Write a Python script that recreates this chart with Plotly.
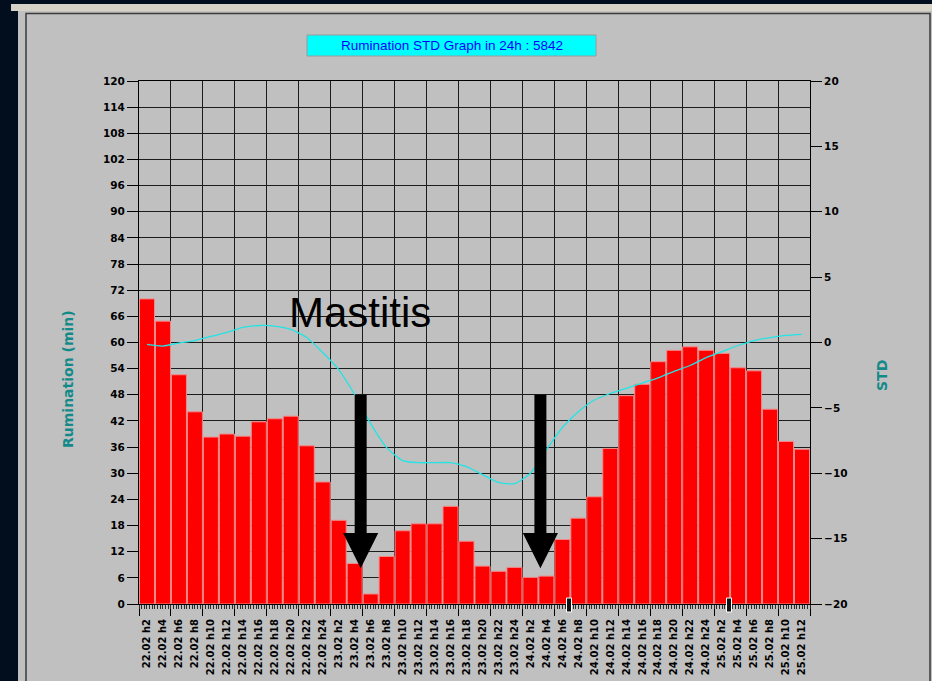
import plotly.graph_objects as go

# ---------------- data ----------------
days = ["22.02"] * 12 + ["23.02"] * 12 + ["24.02"] * 12 + ["25.02"] * 6
hours = [f"h{h}" for h in range(2, 25, 2)] * 3 + [f"h{h}" for h in range(2, 13, 2)]
categories = [f"{d} {h}" for d, h in zip(days, hours)]

rumination = [70.0, 64.9, 52.6, 44.1, 38.3, 39.0, 38.5, 41.8, 42.5, 43.1, 36.3, 28.0,
              19.2, 9.3, 2.3, 10.9, 16.8, 18.4, 18.4, 22.4, 14.4, 8.7, 7.5, 8.4,
              6.1, 6.4, 14.8, 19.7, 24.6, 35.7, 47.8, 50.4, 55.6, 58.2, 59.0, 58.2,
              57.5, 54.2, 53.5, 44.7, 37.3, 35.5]

std = [-0.15, -0.27, -0.04, 0.15, 0.46, 0.77, 1.15, 1.3, 1.26, 1.0, 0.38, -0.77,
       -2.07, -3.98, -6.2, -8.04, -9.03, -9.19, -9.19, -9.19, -9.5, -10.1, -10.7, -10.8,
       -10.0, -8.2, -6.5, -5.3, -4.4, -3.9, -3.5, -3.1, -2.7, -2.2, -1.76, -1.15,
       -0.69, -0.23, 0.15, 0.38, 0.54, 0.62]

left_ticks = list(range(0, 121, 6))
right_ticks = list(range(-20, 21, 5))

title_text = "Rumination STD Graph in 24h : 5842"
# -------------------------------------

W, H = 932, 681
L, R, T, B = 139, 810, 81, 604


def px(x):
    return (x - L) / (R - L)


def py(y):
    return (B - y) / (B - T)


idx = list(range(len(categories)))
TEAL = "#138a8a"
tickfont = dict(family="DejaVu Sans", size=10.5, color="black", weight="bold")
xtickfont = dict(family="DejaVu Sans", size=10, color="black", weight="bold")

fig = go.Figure()
fig.add_trace(go.Bar(x=idx, y=rumination, marker=dict(color="#ff0000",
                     line=dict(color="#f28a8a", width=1)), yaxis="y", xaxis="x",
                     hoverinfo="skip"))
fig.add_trace(go.Scatter(x=idx, y=std, yaxis="y2", xaxis="x", mode="lines",
                         line=dict(color="#22e4e4", width=1.3, shape="spline", smoothing=0.6),
                         hoverinfo="skip"))
# invisible trace to activate the dense-tick overlay axis
fig.add_trace(go.Scatter(x=[0], y=[0], xaxis="x2", yaxis="y", mode="markers",
                         marker=dict(opacity=0), hoverinfo="skip"))

shapes = []
# window frame
shapes.append(dict(type="rect", xref="paper", yref="paper", x0=px(18), x1=px(940),
                   y0=py(690), y1=py(11), fillcolor="#c0c0c0", line=dict(width=0), layer="below"))
shapes.append(dict(type="rect", xref="paper", yref="paper", x0=px(11), x1=px(940),
                   y0=py(11), y1=py(4), fillcolor="#d6d3c6", line=dict(width=0), layer="below"))
shapes.append(dict(type="rect", xref="paper", yref="paper", x0=px(26), x1=px(930),
                   y0=py(700), y1=py(13.5), fillcolor="rgba(0,0,0,0)",
                   line=dict(color="#3a3a3a", width=1.5), layer="below"))
# title box
shapes.append(dict(type="rect", xref="paper", yref="paper", x0=px(307), x1=px(596),
                   y0=py(56), y1=py(35), fillcolor="#00ffff",
                   line=dict(color="#9a9a9a", width=1), layer="above"))
# slider markers on the time axis
for mx in (569, 729):
    shapes.append(dict(type="rect", xref="paper", yref="paper", x0=px(mx - 2.5), x1=px(mx + 2.5),
                       y0=py(612), y1=py(598), fillcolor="#111111",
                       line=dict(color="white", width=1), layer="above"))


# arrows (annotation marks) in data coords
def arrow_path(xc, ytop, yhead, ytip, half_shaft=0.375, half_head=1.1):
    return (f"M {xc-half_shaft},{ytop} L {xc+half_shaft},{ytop} L {xc+half_shaft},{yhead} "
            f"L {xc+half_head},{yhead} L {xc},{ytip} L {xc-half_head},{yhead} "
            f"L {xc-half_shaft},{yhead} Z")


for xc in (13.375, 24.625):
    shapes.append(dict(type="path", xref="x", yref="y", path=arrow_path(xc, 48.0, 16.3, 8.2),
                       fillcolor="black", line=dict(color="black", width=0), layer="above"))

annotations = [
    dict(text=title_text, xref="paper", yref="paper", x=px(451.5), y=py(45.5),
         xanchor="center", yanchor="middle", showarrow=False,
         font=dict(family="Liberation Sans", size=13.5, color="#0000ff")),
    dict(text="Rumination (min)", xref="paper", yref="paper", x=px(68), y=py(379),
         xanchor="center", yanchor="middle", textangle=-90, showarrow=False,
         font=dict(family="DejaVu Sans", size=14, color=TEAL, weight="bold")),
    dict(text="STD", xref="paper", yref="paper", x=px(882), y=py(376),
         xanchor="center", yanchor="middle", textangle=-90, showarrow=False,
         font=dict(family="DejaVu Sans", size=14, color=TEAL, weight="bold")),
    dict(text="Mastitis", xref="paper", yref="paper", x=px(360), y=py(312),
         xanchor="center", yanchor="middle", showarrow=False,
         font=dict(family="Liberation Sans", size=42, color="black")),
]

fig.update_layout(
    width=W, height=H, autosize=False,
    margin=dict(l=L, r=W - R, t=T, b=H - B, pad=0, autoexpand=False),
    paper_bgcolor="#020d1e", plot_bgcolor="#c0c0c0",
    showlegend=False, bargap=0.06,
    shapes=shapes, annotations=annotations,
    xaxis=dict(range=[-0.5, len(idx) - 0.5], tickmode="array", tickvals=idx, ticktext=categories,
               tickangle=-90, tickfont=xtickfont, ticks="outside", ticklen=10,
               tickcolor="rgba(0,0,0,0)", showgrid=False, zeroline=False, automargin=False,
               showline=True, linecolor="black", linewidth=1, mirror=True,
               minor=dict(tickmode="linear", tick0=1.5, dtick=2, ticks="outside", ticklen=11,
                          tickcolor="black", tickwidth=1, showgrid=True,
                          gridcolor="#1c1c1c", gridwidth=1)),
    xaxis2=dict(overlaying="x", anchor="y", side="bottom", range=[-0.5, len(idx) - 0.5],
                tickmode="linear", tick0=-0.5, dtick=1 / 6, ticks="outside", ticklen=4,
                tickcolor="#2a2a2a", tickwidth=1, showticklabels=False, showgrid=False,
                zeroline=False, showline=False, automargin=False),
    yaxis=dict(range=[0, 120], tickmode="array", tickvals=left_ticks, tickfont=tickfont,
               ticks="outside", ticklen=11, tickcolor="black", showgrid=True,
               gridcolor="#1c1c1c", gridwidth=1, zeroline=False, automargin=False,
               showline=True, linecolor="black", linewidth=1),
    yaxis2=dict(range=[-20, 20], overlaying="y", side="right", tickmode="array",
                tickvals=right_ticks, tickfont=tickfont, ticks="outside", ticklen=11,
                tickcolor="black", showgrid=False, zeroline=False, automargin=False,
                showline=True, linecolor="black", linewidth=1),
)

fig.write_html(
    "out.html",
    config={"displayModeBar": False},
    post_script="document.body.style.margin='0';document.body.style.background='#020d1e';"
                "document.body.style.overflow='hidden';",
)
